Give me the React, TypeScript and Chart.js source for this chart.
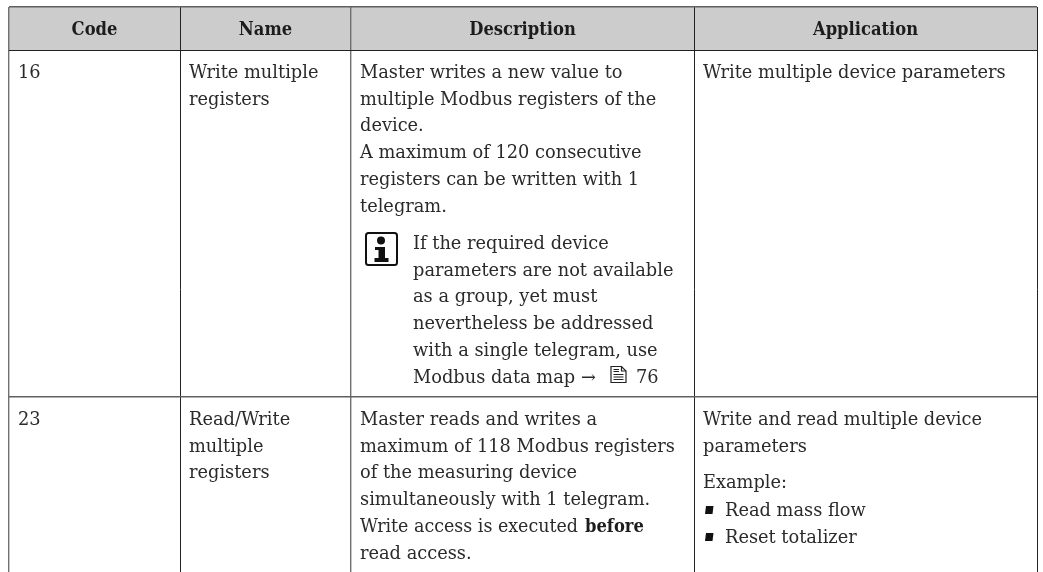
import React, { useEffect, useRef } from "react";
import { Chart, registerables } from "chart.js";

Chart.register(...registerables);

// ---- table content ----
const headers = ["Code", "Name", "Description", "Application"];
const codes = ["16", "23"];
const names = [
  ["Write multiple", "registers"],
  ["Read/Write", "multiple", "registers"],
];
const descriptionRow1 = [
  "Master writes a new value to",
  "multiple Modbus registers of the",
  "device.",
  "A maximum of 120 consecutive",
  "registers can be written with 1",
  "telegram.",
];
const noteLines = [
  "If the required device",
  "parameters are not available",
  "as a group, yet must",
  "nevertheless be addressed",
  "with a single telegram, use",
];
const noteLastLine = "Modbus data map";
const notePageRef = "76";
const arrowGlyph = "→";
const descriptionRow2 = [
  "Master reads and writes a",
  "maximum of 118 Modbus registers",
  "of the measuring device",
  "simultaneously with 1 telegram.",
];
const beforeBold = "Write access is executed";
const boldWord = "before";
const lastLine = "read access.";
const applicationRow1 = ["Write multiple device parameters"];
const applicationRow2 = ["Write and read multiple device", "parameters"];
const exampleLabel = "Example:";
const exampleItems = ["Read mass flow", "Reset totalizer"];

// ---- layout ----
const W = 1043, H = 572;
const colEdges = [9, 180, 351, 694, 1037];
const rowEdges = [7, 50, 397];
const colText = [18, 189, 360, 703];
const noteX = 413;
const rowBase = [78, 425];
const PITCH = 26.7;
const noteBase = 249;
const FONT = '"DejaVu Serif"';
const SIZE = 17.8;
const BOLD_SQUEEZE = 0.92;
const INK = "#2a2a2a";

const tablePlugin = {
  id: "table",
  afterDatasetsDraw(chart: any) {
    const { ctx, scales } = chart;
    const X = (v: number) => scales.x.getPixelForValue(v);
    const Y = (v: number) => scales.y.getPixelForValue(v);
    const put = (s: string, x: number, y: number, bold = false, maxW?: number) => {
      ctx.font = `${bold ? "bold " : ""}${SIZE}px ${FONT}`;
      ctx.fillStyle = bold ? "#1c1c1c" : INK;
      ctx.textAlign = "left";
      ctx.textBaseline = "alphabetic";
      const natural = ctx.measureText(s).width;
      const w = maxW ?? (bold ? natural * BOLD_SQUEEZE : natural);
      ctx.fillText(s, X(x), Y(y), w);
      return w;
    };
    const block = (ls: string[], x: number, y: number) =>
      ls.forEach((s, i) => put(s, x, y + i * PITCH));

    ctx.save();
    headers.forEach((h, i) => {
      ctx.font = `bold ${SIZE}px ${FONT}`;
      const w = ctx.measureText(h).width * BOLD_SQUEEZE;
      const c = (colEdges[i] + colEdges[i + 1]) / 2;
      put(h, c - w / 2, 35, true);
    });
    codes.forEach((c, i) => put(c, colText[0], rowBase[i]));
    names.forEach((n, i) => block(n, colText[1], rowBase[i]));
    block(descriptionRow1, colText[2], rowBase[0]);
    block(noteLines, noteX, noteBase);
    const noteLast = noteBase + noteLines.length * PITCH;
    put(noteLastLine, noteX, noteLast);
    put(arrowGlyph, 581, noteLast);
    put(notePageRef, 636, noteLast);
    block(descriptionRow2, colText[2], rowBase[1]);
    put(beforeBold, colText[2], rowBase[1] + 4 * PITCH, false, 218);
    put(boldWord, 585, rowBase[1] + 4 * PITCH, true);
    put(lastLine, colText[2], rowBase[1] + 5 * PITCH);
    block(applicationRow1, colText[3], rowBase[0]);
    block(applicationRow2, colText[3], rowBase[1]);
    put(exampleLabel, colText[3], 488);
    exampleItems.forEach((s, i) => {
      put(s, 725, 516 + i * 27);
      ctx.fillStyle = "#111";
      const bx = X(705), by = Y(506 + i * 27);
      ctx.beginPath();
      ctx.moveTo(bx + 1, by);
      ctx.lineTo(bx + 8.5, by);
      ctx.lineTo(bx + 7.5, by + 8);
      ctx.lineTo(bx, by + 8);
      ctx.closePath();
      ctx.fill();
    });

    // info icon
    ctx.strokeStyle = "#111";
    ctx.lineWidth = 2;
    ctx.beginPath();
    ctx.roundRect(X(366), Y(233), 31, 32, 2.5);
    ctx.stroke();
    ctx.fillStyle = "#111";
    ctx.beginPath();
    ctx.arc(X(381), Y(240.5), 4, 0, Math.PI * 2);
    ctx.fill();
    ctx.fillRect(X(375), Y(247), 10, 3);
    ctx.fillRect(X(378.5), Y(247), 6.5, 13);
    ctx.fillRect(X(374.5), Y(258), 14, 4);

    // page icon
    ctx.strokeStyle = "#222";
    ctx.lineWidth = 1.2;
    const px = X(611), py = Y(366.5);
    ctx.beginPath();
    ctx.moveTo(px, py);
    ctx.lineTo(px + 10.5, py);
    ctx.lineTo(px + 15, py + 4.5);
    ctx.lineTo(px + 15, py + 16);
    ctx.lineTo(px, py + 16);
    ctx.closePath();
    ctx.stroke();
    ctx.beginPath();
    ctx.moveTo(px + 10.5, py);
    ctx.lineTo(px + 10.5, py + 4.5);
    ctx.lineTo(px + 15, py + 4.5);
    ctx.moveTo(px + 2.5, py + 3);
    ctx.lineTo(px + 8, py + 3);
    ctx.moveTo(px + 2.5, py + 5);
    ctx.lineTo(px + 8, py + 5);
    [8, 10.5, 13].forEach((d) => {
      ctx.moveTo(px + 2.5, py + d);
      ctx.lineTo(px + 12.5, py + d);
    });
    ctx.stroke();
    ctx.restore();
  },
};

export default function App() {
  const ref = useRef<HTMLCanvasElement>(null);
  useEffect(() => {
    const chart = new Chart(ref.current!, {
      type: "bar",
      data: {
        labels: ["header"],
        datasets: [
          {
            data: [[rowEdges[0], rowEdges[1]]] as any,
            backgroundColor: "#cccccc",
            barPercentage: 1,
            categoryPercentage: 1,
            xAxisID: "band",
            yAxisID: "y",
          },
        ],
      },
      options: {
        responsive: false,
        animation: false,
        events: [],
        layout: { padding: { left: colEdges[0], top: rowEdges[0], right: W - colEdges[4], bottom: 0 } },
        plugins: { legend: { display: false }, tooltip: { enabled: false } },
        scales: {
          band: { type: "category", display: false },
          x: {
            type: "linear",
            offset: false,
            min: colEdges[0],
            max: colEdges[4],
            afterBuildTicks: (a: any) => { a.ticks = colEdges.map((value) => ({ value })); },
            ticks: { display: false },
            border: { display: false },
            grid: {
              offset: false,
              z: 1,
              drawTicks: false,
              lineWidth: (c: any) => (c.index === 2 || c.index === 0 ? 1.4 : 1),
              color: (c: any) => (c.index === 0 || c.index === 2 ? "#707070" : "#222222"),
            },
          },
          y: {
            type: "linear",
            min: rowEdges[0],
            max: H,
            reverse: true,
            afterBuildTicks: (a: any) => { a.ticks = rowEdges.map((value) => ({ value })); },
            ticks: { display: false },
            border: { display: false },
            grid: {
              z: 1,
              drawTicks: false,
              lineWidth: (c: any) => (c.index === 1 ? 1 : 1.4),
              color: (c: any) => (c.index === 1 ? "#222222" : "#606060"),
            },
          },
        },
      } as any,
      plugins: [tablePlugin],
    });
    return () => chart.destroy();
  }, []);
  return (
    <canvas
      ref={ref}
      width={W}
      height={H}
      style={{ position: "absolute", left: 0, top: 0, display: "block", background: "#fff" }}
    />
  );
}
